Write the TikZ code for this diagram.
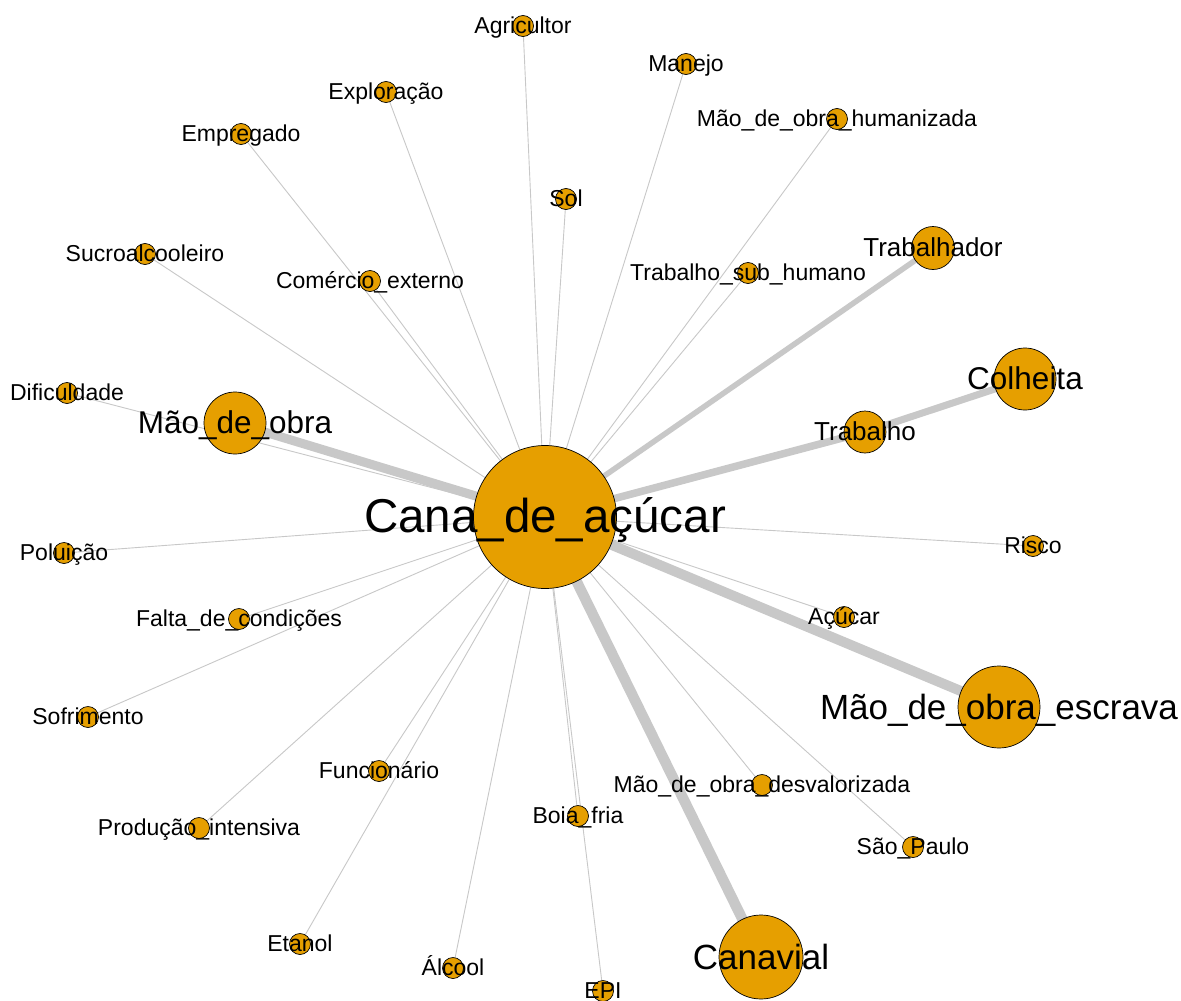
\documentclass[tikz,border=0pt]{standalone}
\usepackage{fontspec}
\setmainfont{Liberation Sans}
\definecolor{vfill}{HTML}{E69F00}
\definecolor{egray}{HTML}{C8C8C8}
\begin{document}
\begin{tikzpicture}[x=1pt,y=-1pt,
  vert/.style={circle,draw=black,line width=0.7pt,fill=vfill,inner sep=0pt,minimum size=#1},
  thinedge/.style={draw=egray,line width=0.9pt},
  thickedge/.style={draw=egray,line width=#1},
  labbase/.style={anchor=base,inner sep=0pt,text=black},
  labS/.style={labbase,font=\fontsize{23}{23}\selectfont,yshift=-7.6pt},
  labM/.style={labbase,font=\fontsize{26}{26}\selectfont,yshift=-8.8pt},
  labL/.style={labbase,font=\fontsize{31.5}{31.5}\selectfont,yshift=-10.8pt},
  labXL/.style={labbase,font=\fontsize{35}{35}\selectfont,yshift=-12pt},
  labXXL/.style={labbase,font=\fontsize{47.5}{47.5}\selectfont,yshift=-15.5pt}]
\clip (0,0) rectangle (1181,1001);
\useasboundingbox (0,0) rectangle (1181,1001);
\fill[white] (0,0) rectangle (1181,1001);
% positions
\coordinate (cana) at (545,517);
\coordinate (agricultor) at (523,26);
\coordinate (manejo) at (686,64);
\coordinate (exploracao) at (386,92);
\coordinate (humanizada) at (837,119);
\coordinate (empregado) at (241,134);
\coordinate (sol) at (566,199);
\coordinate (sucro) at (145,254);
\coordinate (comercio) at (370,281);
\coordinate (subhumano) at (748,273);
\coordinate (trabalhador) at (933,248);
\coordinate (maodeobra) at (235,423);
\coordinate (dificuldade) at (67,393);
\coordinate (poluicao) at (64,553);
\coordinate (falta) at (239,619);
\coordinate (sofrimento) at (88,717);
\coordinate (funcionario) at (379,771);
\coordinate (producao) at (199,828);
\coordinate (etanol) at (300,944);
\coordinate (alcool) at (453,968);
\coordinate (boia) at (578,816);
\coordinate (epi) at (603,991);
\coordinate (canavial) at (761,957);
\coordinate (desvalorizada) at (762,785);
\coordinate (saopaulo) at (913,847);
\coordinate (escrava) at (999,707);
\coordinate (acucar) at (844,617);
\coordinate (risco) at (1033,546);
\coordinate (trabalho) at (865,432);
\coordinate (colheita) at (1025,379);
% edges
\foreach \n in {agricultor,manejo,exploracao,humanizada,empregado,sol,sucro,comercio,subhumano,dificuldade,poluicao,falta,sofrimento,funcionario,producao,etanol,alcool,boia,epi,desvalorizada,saopaulo,acucar,risco}
  \draw[thinedge] (cana) -- (\n);
\draw[thickedge=5.5pt] (cana) -- (trabalhador);
\draw[thickedge=9pt] (cana) -- (maodeobra);
\draw[thickedge=10.5pt] (cana) -- (canavial);
\draw[thickedge=10pt] (cana) -- (escrava);
\draw[thickedge=7.5pt] (cana) -- (trabalho);
\draw[thickedge=7pt] (trabalho) -- (colheita);
% vertices
\foreach \n in {agricultor,manejo,exploracao,humanizada,empregado,sol,sucro,comercio,subhumano,dificuldade,poluicao,falta,sofrimento,funcionario,producao,etanol,alcool,boia,epi,desvalorizada,saopaulo,acucar,risco}
  \node[vert=21pt] (v-\n) at (\n) {};
\node[vert=43pt] (v-trabalhador) at (trabalhador) {};
\node[vert=42pt] (v-trabalho) at (trabalho) {};
\node[vert=62pt] (v-maodeobra) at (maodeobra) {};
\node[vert=62pt] (v-colheita) at (colheita) {};
\node[vert=82pt] (v-escrava) at (escrava) {};
\node[vert=84pt] (v-canavial) at (canavial) {};
\node[vert=143pt] (v-cana) at (cana) {};
% labels
\node[labS] (l-agricultor) at (agricultor) {Agricultor};
\node[labS] (l-manejo) at (manejo) {Manejo};
\node[labS] (l-exploracao) at (exploracao) {Exploração};
\node[labS] (l-humanizada) at (humanizada) {Mão\_de\_obra\_humanizada};
\node[labS] (l-empregado) at (empregado) {Empregado};
\node[labS] (l-sol) at (sol) {Sol};
\node[labS] (l-sucro) at (sucro) {Sucroalcooleiro};
\node[labS] (l-comercio) at (comercio) {Comércio\_externo};
\node[labS] (l-subhumano) at (subhumano) {Trabalho\_sub\_humano};
\node[labS] (l-dificuldade) at (dificuldade) {Dificuldade};
\node[labS] (l-poluicao) at (poluicao) {Poluição};
\node[labS] (l-falta) at (falta) {Falta\_de\_condições};
\node[labS] (l-sofrimento) at (sofrimento) {Sofrimento};
\node[labS] (l-funcionario) at (funcionario) {Funcionário};
\node[labS] (l-producao) at (producao) {Produção\_intensiva};
\node[labS] (l-etanol) at (etanol) {Etanol};
\node[labS] (l-alcool) at (alcool) {Álcool};
\node[labS] (l-boia) at (boia) {Boia\_fria};
\node[labS] (l-epi) at (epi) {EPI};
\node[labS] (l-desvalorizada) at (desvalorizada) {Mão\_de\_obra\_desvalorizada};
\node[labS] (l-saopaulo) at (saopaulo) {São\_Paulo};
\node[labS] (l-acucar) at (acucar) {Açúcar};
\node[labS] (l-risco) at (risco) {Risco};
\node[labM] (l-trabalhador) at (trabalhador) {Trabalhador};
\node[labM] (l-trabalho) at (trabalho) {Trabalho};
\node[labL] (l-maodeobra) at (maodeobra) {Mão\_de\_obra};
\node[labL] (l-colheita) at (colheita) {Colheita};
\node[labXL] (l-escrava) at (escrava) {Mão\_de\_obra\_escrava};
\node[labXL] (l-canavial) at (canavial) {Canavial};
\node[labXXL] (l-cana) at (cana) {Cana\_de\_açúcar};
\end{tikzpicture}
\end{document}
